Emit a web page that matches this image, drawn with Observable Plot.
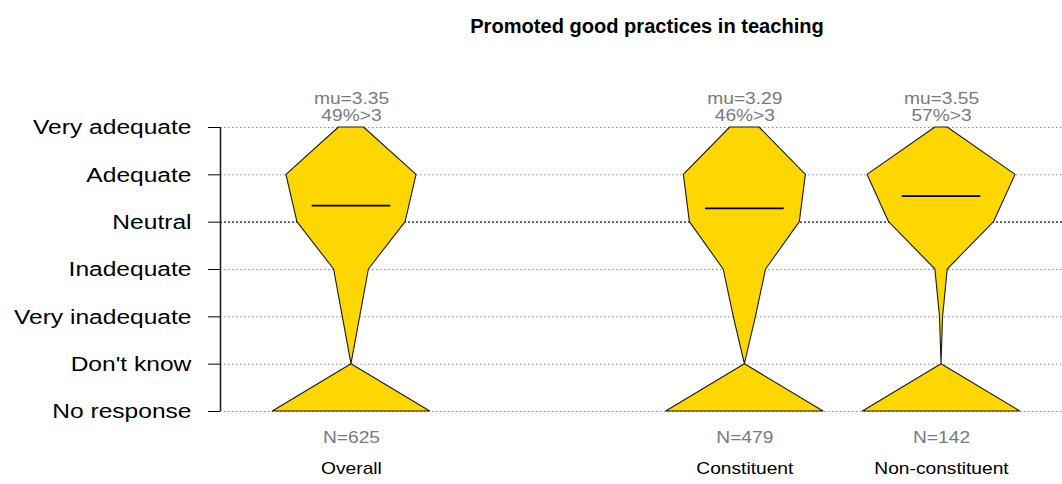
<!DOCTYPE html>
<html>
<head>
<meta charset="utf-8">
<script src="https://cdn.jsdelivr.net/npm/d3@7"></script>
<script src="https://cdn.jsdelivr.net/npm/@observablehq/plot@0.6"></script>
<style>
  html, body { margin: 0; padding: 0; background: white; }
</style>
</head>
<body>
<div id="chart"></div>
<script>
const title = "Promoted good practices in teaching";
const levelLabels = ["No response", "Don't know", "Very inadequate", "Inadequate", "Neutral", "Adequate", "Very adequate"];
const levelValues = [-1, 0, 1, 2, 3, 4, 5];
const groups = ["Overall", "Constituent", "Non-constituent"];
const groupPositions = [1, 3, 4];
const countsOverall = [208, 0, 23, 46, 143, 172, 33];
const countsConstituent = [156, 0, 22, 42, 109, 121, 29];
const countsNonConstituent = [51, 0, 1, 4, 34, 48, 4];
const means = [3.35, 3.29, 3.55];
const pctAbove3 = [49, 46, 57];
const sampleSizes = [625, 479, 142];

const allCounts = [countsOverall, countsConstituent, countsNonConstituent];
const xDomain = [0.334, 4.615];
const maxHalf = 0.4;
const meanHalf = 0.2;

const rows = [];
groups.forEach((g, i) => {
  const c = allCounts[i];
  const mx = Math.max(...c);
  levelValues.forEach((v, j) => {
    rows.push({group: g, pos: groupPositions[i], value: v, half: maxHalf * c[j] / mx});
  });
});
const groupRows = groups.map((g, i) => ({
  group: g, pos: groupPositions[i], mean: means[i], pct: pctAbove3[i], n: sampleSizes[i]
}));

const svg = Plot.plot({
  width: 1062,
  height: 484,
  marginLeft: 220,
  marginRight: 0,
  marginTop: 127,
  marginBottom: 73,
  style: {fontFamily: "'Liberation Sans', Arial, Helvetica, sans-serif", fontSize: "21px", background: "white", overflow: "visible", color: "black"},
  x: {domain: xDomain, axis: null},
  y: {
    domain: [-1, 5],
    ticks: levelValues,
    tickFormat: d => levelLabels[levelValues.indexOf(d)],
    tickSize: 12,
    tickPadding: 17,
    label: null
  },
  marks: [
    Plot.ruleY(levelValues, {x1: xDomain[0], x2: xDomain[1], stroke: "#8c8c8c", strokeWidth: 1, strokeDasharray: "1.5,2.5"}),
    Plot.ruleY([3], {x1: xDomain[0], x2: xDomain[1], stroke: "#555", strokeWidth: 1.6, strokeDasharray: "2,2"}),
    Plot.ruleX([xDomain[0]], {y1: -1, y2: 5, stroke: "#222", strokeWidth: 1.6}),
    Plot.areaX(rows, {y: "value", x1: d => d.pos - d.half, x2: d => d.pos + d.half, z: "group", fill: "#FFD700", stroke: "#1a1a1a", strokeWidth: 1.1, curve: "linear"}),
    Plot.ruleY(groupRows, {y: "mean", x1: d => d.pos - meanHalf, x2: d => d.pos + meanHalf, stroke: "black", strokeWidth: 1.8}),
    Plot.text(groupRows, {x: "pos", y: () => 5, text: d => `mu=${d.mean.toFixed(2)}`, dy: -28.5, fill: "#7a7a7a", fontSize: 16, ariaDescription: "group labels"}),
    Plot.text(groupRows, {x: "pos", y: () => 5, text: d => `${d.pct}%>3`, dy: -12, fill: "#7a7a7a", fontSize: 16, ariaDescription: "group labels"}),
    Plot.text(groupRows, {x: "pos", y: () => -1, text: d => `N=${d.n}`, dy: 26, fill: "#7a7a7a", fontSize: 16, ariaDescription: "group labels"}),
    Plot.text(groupRows, {x: "pos", y: () => -1, text: "group", dy: 57, fill: "black", fontSize: 16, ariaDescription: "group labels"}),
    Plot.text([title], {frameAnchor: "top", dy: -108, dx: 5.5, fontSize: 19.5, fontWeight: "bold", fill: "black", ariaDescription: "title"})
  ]
});
document.getElementById("chart").append(svg);

svg.querySelectorAll("text").forEach(t => {
  let k = 1;
  const d = t.closest("[aria-description]");
  const desc = d ? d.getAttribute("aria-description") : "";
  const a = t.closest("[aria-label]");
  const lab = a ? a.getAttribute("aria-label") : "";
  if (desc === "title") k = 1.03;
  else if (desc === "group labels") k = 1.2;
  else if (lab.startsWith("y-axis")) k = 1.17;
  if (k === 1) return;
  const b = t.getBBox();
  const anchor = getComputedStyle(t).textAnchor;
  const ax = anchor === "end" ? b.x + b.width : anchor === "middle" ? b.x + b.width / 2 : b.x;
  const tr = t.getAttribute("transform") || "";
  t.setAttribute("transform", `${tr} translate(${ax},0) scale(${k},1) translate(${-ax},0)`);
});
</script>
</body>
</html>
